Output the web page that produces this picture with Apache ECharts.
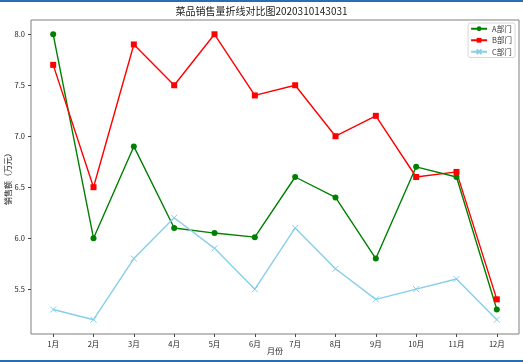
<!DOCTYPE html>
<html><head><meta charset="utf-8">
<script src="https://cdn.jsdelivr.net/npm/echarts@6/dist/echarts.min.js"></script>
<style>html,body{margin:0;padding:0;background:#fff}#c{width:523px;height:362px}</style>
</head><body><div id="c"></div>
<script>
const categories = ['1月','2月','3月','4月','5月','6月','7月','8月','9月','10月','11月','12月'];
const seriesA = [8.0, 6.0, 6.9, 6.1, 6.05, 6.01, 6.6, 6.4, 5.8, 6.7, 6.6, 5.3];
const seriesB = [7.7, 6.5, 7.9, 7.5, 8.0, 7.4, 7.5, 7.0, 7.2, 6.6, 6.65, 5.4];
const seriesC = [5.3, 5.2, 5.8, 6.2, 5.9, 5.5, 6.1, 5.7, 5.4, 5.5, 5.6, 5.2];
const yTicks = [5.5, 6.0, 6.5, 7.0, 7.5, 8.0];
const names = ['A部门','B部门','C部门'];
const titleText = '菜品销售量折线对比图2020310143031';

const font = '"Noto Sans CJK SC", "DejaVu Sans", sans-serif';
const toPts = arr => arr.map((v, i) => [i + 1, v]);
const xTicks = categories.map((c, i) => i + 1);
const crossPath = 'path://M0,0L10,10M10,0L0,10';

const chart = echarts.init(document.getElementById('c'), null, {renderer: 'canvas'});
chart.setOption({
  animation: false,
  backgroundColor: '#fff',
  textStyle: {fontFamily: font},
  title: {
    text: titleText, left: 'center', top: 6, padding: 0,
    textStyle: {fontSize: 10, fontWeight: 'normal', color: '#222', fontFamily: font}
  },
  graphic: [
    {type: 'rect', left: 0, top: 0, shape: {width: 523, height: 2}, style: {fill: '#2a6db5'}},
    {type: 'rect', left: 0, top: 360, shape: {width: 523, height: 2}, style: {fill: '#2a6db5'}}
  ],
  legend: {
    right: 8, top: 23, orient: 'vertical',
    itemWidth: 16, itemHeight: 6, itemGap: 4,
    padding: [2, 3, 2, 2],
    borderColor: '#d6d6d6', borderWidth: 1, borderRadius: 2,
    textStyle: {fontSize: 7.5, color: '#333', fontFamily: font},
    data: names
  },
  grid: {
    left: 31, right: 4, top: 20, bottom: 28,
    containLabel: false, outerBoundsMode: 'none',
    show: true, borderColor: '#7f7f7f', borderWidth: 1
  },
  xAxis: {
    type: 'value', min: 0.45, max: 12.55,
    name: '月份', nameLocation: 'middle', nameGap: 13, nameMoveOverlap: false,
    nameTextStyle: {fontSize: 8, color: '#222', fontFamily: font},
    axisLine: {show: false},
    splitLine: {show: false},
    axisTick: {show: true, length: 3, customValues: xTicks, lineStyle: {color: '#444'}},
    axisLabel: {
      customValues: xTicks, fontSize: 7.5, color: '#222', margin: 6,
      formatter: v => categories[Math.round(v) - 1] || ''
    }
  },
  yAxis: {
    type: 'value', min: 5.06, max: 8.14,
    name: '销售额（万元）', nameLocation: 'middle', nameGap: 19, nameRotate: 90, nameMoveOverlap: false,
    nameTextStyle: {fontSize: 8, color: '#222', fontFamily: font},
    axisLine: {show: false},
    splitLine: {show: false},
    axisTick: {show: true, length: 3, customValues: yTicks, lineStyle: {color: '#444'}},
    axisLabel: {
      customValues: yTicks, fontSize: 7.5, color: '#222', margin: 6,
      formatter: v => Number(v).toFixed(1)
    }
  },
  series: [
    {
      name: names[0], type: 'line', data: toPts(seriesA),
      symbol: 'circle', symbolSize: 6,
      lineStyle: {color: '#008000', width: 1.4},
      itemStyle: {color: '#008000'}
    },
    {
      name: names[1], type: 'line', data: toPts(seriesB),
      symbol: 'rect', symbolSize: 6,
      lineStyle: {color: '#ff0000', width: 1.4},
      itemStyle: {color: '#ff0000'}
    },
    {
      name: names[2], type: 'line', data: toPts(seriesC),
      symbol: crossPath, symbolSize: 6,
      lineStyle: {color: '#87ceeb', width: 1.4},
      itemStyle: {color: 'rgba(0,0,0,0)', borderColor: '#87ceeb', borderWidth: 1}
    }
  ]
});
</script></body></html>
